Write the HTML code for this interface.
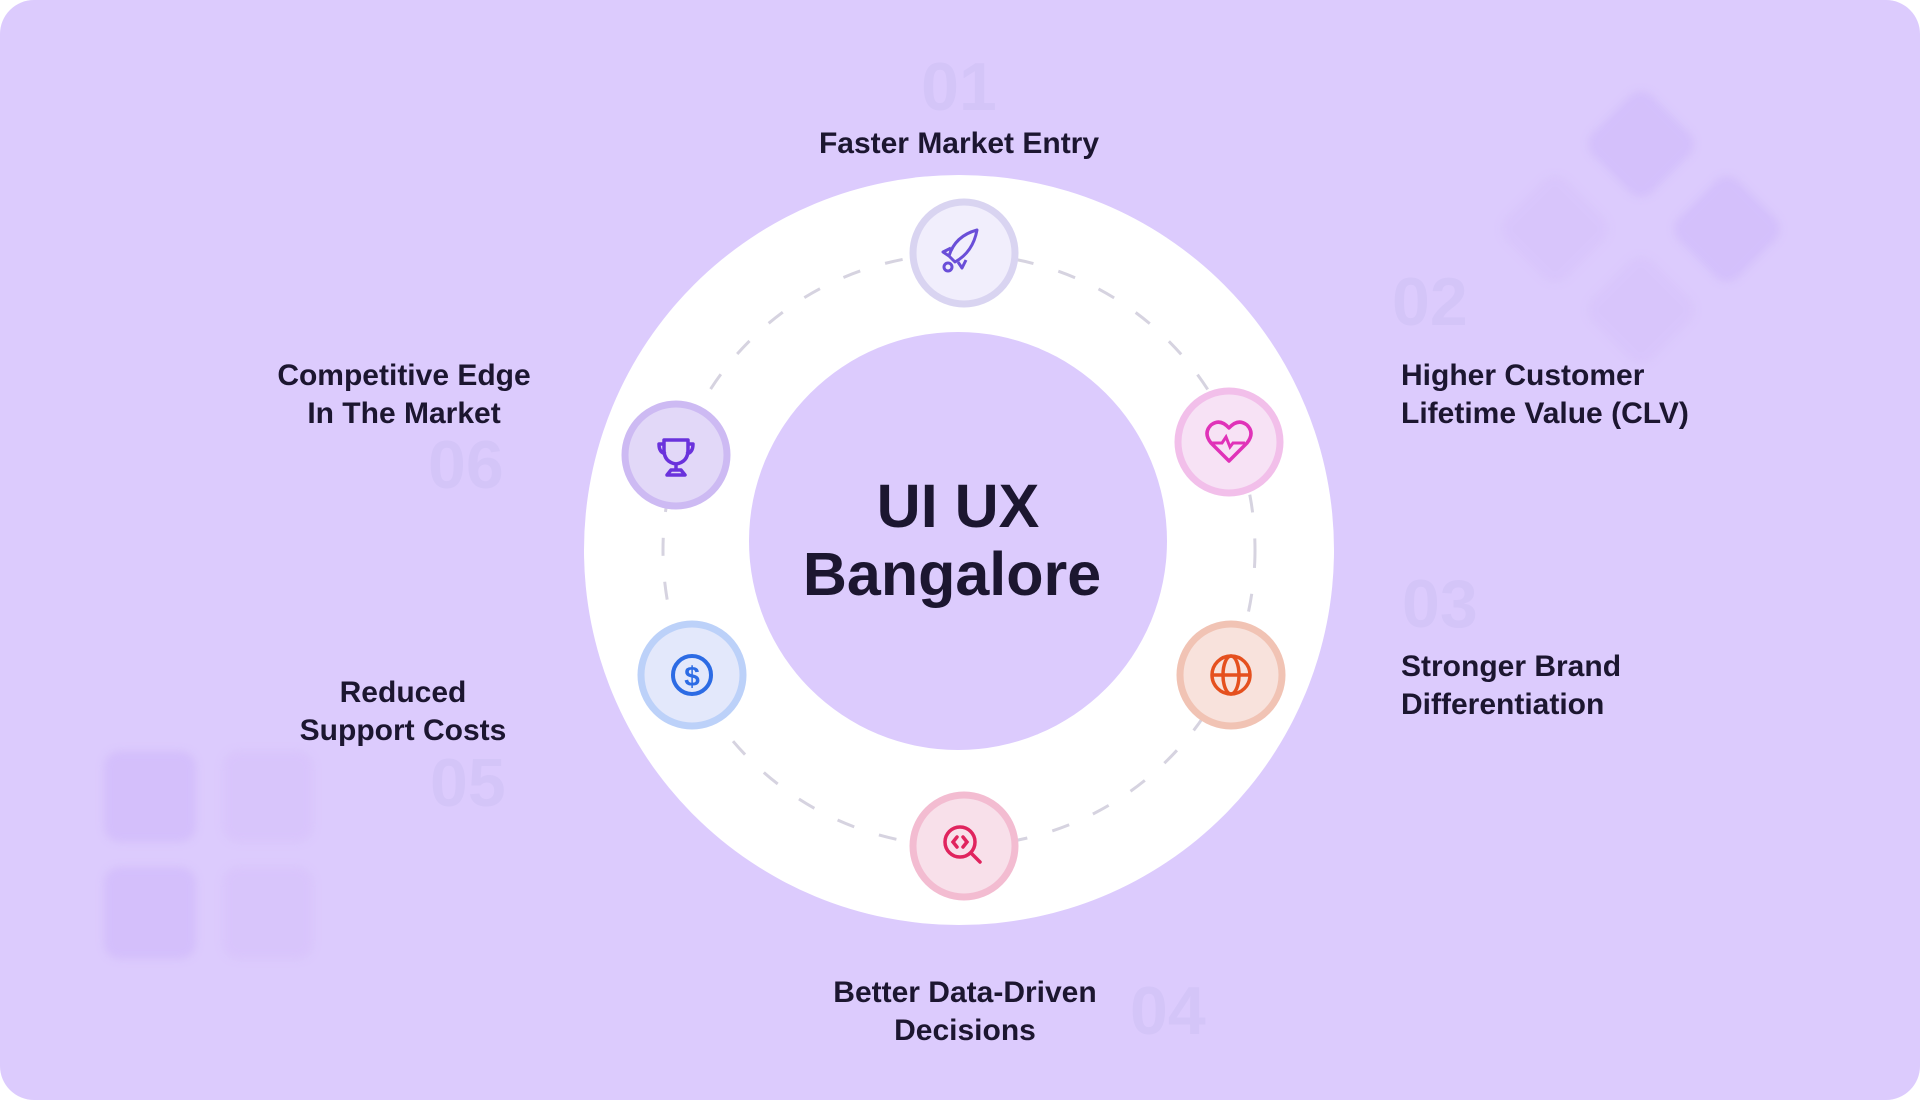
<!DOCTYPE html>
<html><head><meta charset="utf-8"><style>
html,body{margin:0;padding:0;background:#fff;}
body{width:1920px;height:1100px;overflow:hidden;}
svg{display:block}
.t{font-family:"Liberation Sans",sans-serif;font-weight:bold;fill:#1c1630;font-size:30px}
.n{font-family:"Liberation Sans",sans-serif;font-weight:bold;fill:#d4c5f8;font-size:68px}
</style></head><body>
<svg width="1920" height="1100" viewBox="0 0 1920 1100">
<defs>
<filter id="b" x="-50%" y="-50%" width="200%" height="200%"><feGaussianBlur stdDeviation="4"/></filter>
</defs>
<rect x="0" y="0" width="1920" height="1100" rx="34" fill="#dccbfd"/>
<g filter="url(#b)" opacity="0.8">
<rect x="104" y="751" width="92" height="91" rx="16" fill="#d2bcfb"/>
<rect x="223" y="751" width="90" height="91" rx="16" fill="#d8c3fb"/>
<rect x="104" y="867" width="92" height="92" rx="16" fill="#d2bcfb"/>
<rect x="223" y="867" width="90" height="92" rx="16" fill="#d8c3fb"/>
<g transform="translate(1641,144) rotate(45)"><rect x="-42" y="-42" width="84" height="84" rx="16" fill="#d2bdfb"/></g>
<g transform="translate(1727,229) rotate(45)"><rect x="-42" y="-42" width="84" height="84" rx="16" fill="#d2bdfb"/></g>
<g transform="translate(1555,229) rotate(45)"><rect x="-42" y="-42" width="84" height="84" rx="16" fill="#d8c4fb"/></g>
<g transform="translate(1641,310) rotate(45)"><rect x="-42" y="-42" width="84" height="84" rx="16" fill="#d8c4fb"/></g>
</g>
<text class="n" x="959" y="110" text-anchor="middle">01</text>
<text class="n" x="1392" y="325">02</text>
<text class="n" x="1402" y="627">03</text>
<text class="n" x="1130" y="1034">04</text>
<text class="n" x="430" y="806">05</text>
<text class="n" x="428" y="488">06</text>
<circle cx="959" cy="550" r="375" fill="#ffffff"/>
<circle cx="959" cy="550" r="296" fill="none" stroke="#d6d3e0" stroke-width="3" stroke-dasharray="18 26"/>
<circle cx="958" cy="541" r="209" fill="#dccbfd"/>
<text class="t" x="958" y="527" text-anchor="middle" style="font-size:61px">UI UX</text>
<text class="t" x="952" y="595" text-anchor="middle" style="font-size:61px">Bangalore</text>
<g>
<circle cx="964" cy="253" r="51" fill="#f1eefc" stroke="#d9d4f1" stroke-width="7"/>
<path d="M955 262 l-6 -6 q6 -20 28 -26 q-4 22 -22 32z M958 262 l4 6 l4 -8 M949 256 l-6 -4 l8 -4" fill="none" stroke="#6a4ed8" stroke-width="3" stroke-linejoin="round"/>
<circle cx="948" cy="267" r="4" fill="none" stroke="#6a4ed8" stroke-width="3"/>
</g>
<g>
<circle cx="1229" cy="442" r="51" fill="#f7e2f5" stroke="#f2bfea" stroke-width="7"/>
<path d="M1229 461 l-18 -18 q-8 -10 0 -18 q9 -7 18 3 q9 -10 18 -3 q8 8 0 18z" fill="none" stroke="#e032b8" stroke-width="3.5" stroke-linejoin="round"/>
<path d="M1212 443 h10 l4 -6 l4 10 l3 -4 h12" fill="none" stroke="#e032b8" stroke-width="3"/>
</g>
<g>
<circle cx="1231" cy="675" r="51" fill="#f8e2dc" stroke="#f1c3b4" stroke-width="7"/>
<circle cx="1231" cy="675" r="19" fill="none" stroke="#e5501e" stroke-width="3.5"/>
<ellipse cx="1231" cy="675" rx="8" ry="19" fill="none" stroke="#e5501e" stroke-width="3.5"/>
<path d="M1212 675 h38" stroke="#e5501e" stroke-width="3.5"/>
</g>
<g>
<circle cx="964" cy="846" r="51" fill="#f8e0ea" stroke="#f3bcd1" stroke-width="7"/>
<circle cx="960" cy="842" r="15" fill="none" stroke="#e0245e" stroke-width="3.5"/>
<path d="M971 853 l9 9 M957 837 l-4 5 l4 5 M963 837 l4 5 l-4 5" fill="none" stroke="#e0245e" stroke-width="3.5" stroke-linecap="round"/>
</g>
<g>
<circle cx="692" cy="675" r="51" fill="#e3e8fb" stroke="#bcd1f9" stroke-width="7"/>
<circle cx="692" cy="675" r="19" fill="none" stroke="#2c6be4" stroke-width="4"/>
<text x="692" y="686" text-anchor="middle" style="font-family:'Liberation Sans',sans-serif;font-weight:bold;font-size:28px;fill:#2c6be4">$</text>
</g>
<g>
<circle cx="676" cy="455" r="51" fill="#e2d8f8" stroke="#cdbaf3" stroke-width="7"/>
<path d="M664 440 h24 v10 q0 12 -12 14 q-12 -2 -12 -14z M664 444 h-5 q0 9 7 10 M688 444 h5 q0 9 -7 10 M676 464 v6 M667 475 l4 -5 h10 l4 5z" fill="none" stroke="#6a32dc" stroke-width="3.5" stroke-linejoin="round"/>
</g>
<text class="t" x="959" y="153" text-anchor="middle">Faster Market Entry</text>
<text class="t" x="1401" y="385">Higher Customer</text>
<text class="t" x="1401" y="423">Lifetime Value (CLV)</text>
<text class="t" x="1401" y="676">Stronger Brand</text>
<text class="t" x="1401" y="714">Differentiation</text>
<text class="t" x="965" y="1002" text-anchor="middle">Better Data-Driven</text>
<text class="t" x="965" y="1040" text-anchor="middle">Decisions</text>
<text class="t" x="403" y="702" text-anchor="middle">Reduced</text>
<text class="t" x="403" y="740" text-anchor="middle">Support Costs</text>
<text class="t" x="404" y="385" text-anchor="middle">Competitive Edge</text>
<text class="t" x="404" y="423" text-anchor="middle">In The Market</text>
</svg>
</body></html>
